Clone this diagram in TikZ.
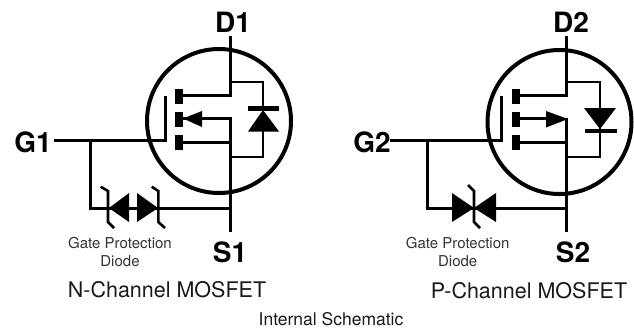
\documentclass[tikz,border=0pt]{standalone}
\usepackage{fontspec}
\setmainfont{TeX Gyre Heros}
\tikzset{
  wire/.style={line width=3pt},
  thinwire/.style={line width=2.6pt},
  ring/.style={line width=4pt},
  pad/.style={fill=black,draw=none,minimum width=8pt,minimum height=15pt,inner sep=0pt},
  tip/.style={fill=black,draw=none},
  pin/.style={font=\fontsize{28}{28}\selectfont\bfseries,inner sep=0pt},
  note/.style={font=\fontsize{15}{18}\selectfont,align=center,inner sep=0pt,text=black!80},
  caption/.style={font=\fontsize{21.5}{24}\selectfont,inner sep=0pt,text=black!90},
  bottomline/.style={font=\fontsize{17.5}{20}\selectfont,inner sep=0pt,text=black!90}
}
\begin{document}
\begin{tikzpicture}[x=1pt,y=-1pt]
\useasboundingbox (0,0) rectangle (634,330);

% left part:
\draw[ring] (219,121) circle (72);
\node[pin] (D1) at (233,22) {D1};
\node[pin] (S1) at (230,252) {S1};
\node[pin] (G1) at (33,142) {G1};
\coordinate (D1top) at (230,37);
\coordinate (D1bot) at (230,232);
\coordinate (G1w) at (54,140.5);
\node[pad] (P1a) at (179,96.5) {};
\node[pad] (P1b) at (179,119.5) {};
\node[pad] (P1c) at (179,142.5) {};
\draw[wire,line cap=rect] (D1top) -- (230,95) -- (P1a.east |- 0,95);
\draw[wire] (P1b.east |- 0,118.5) -- (230,118.5) -- (D1bot);
\draw[wire] (P1c.east |- 0,142) -- (230,142);
\draw[wire] (G1w) -- (165,140.5) -- (165,96);
\draw[thinwire] (230,82) -| (263,157) -- (230,157);
\fill[tip] (183,118.5) -- (202,111) -- (202,127) -- cycle;
\fill[tip] (263,110) -- (279,131.5) -- (248,131.5) -- cycle;
\draw[line width=4.5pt] (248,108.5) -- (279,108.5);

% gate clamp left:
\draw[wire] (90,140.5) |- (230,208.5);
\fill[tip] (109,208) -- (129,193) -- (129,222) -- cycle;
\fill[tip] (158,208) -- (137,193) -- (137,222) -- cycle;
\draw[thinwire] (100.7,186.7) -- (108,191) -- (108,222) -- (114,228);
\draw[thinwire] (151.7,186.7) -- (158.3,191) -- (158.3,222) -- (165,228);
\node[note] (N1) at (120,252) {Gate Protection\\Diode};
\node[caption] (C1) at (167,290) {N-Channel MOSFET};

% right part:
\draw[ring] (559.5,122) circle (72);
\node[pin] (D2) at (571,22) {D2};
\node[pin] (S2) at (573,252) {S2};
\node[pin] (G2) at (372,142) {G2};
\coordinate (D2top) at (566.7,37);
\coordinate (D2bot) at (566.7,232);
\coordinate (G2w) at (390,140.5);
\node[pad] (P2a) at (516,96.5) {};
\node[pad] (P2b) at (516,119.5) {};
\node[pad] (P2c) at (516,142.5) {};
\draw[wire,line cap=rect] (D2top) -- (566.7,95) -- (P2a.east |- 0,95);
\draw[wire] (P2b.east |- 0,118.5) -- (550,118.5);
\draw[wire] (566.7,118) -- (D2bot);
\draw[wire] (P2c.east |- 0,142) -- (566.7,142);
\draw[wire] (G2w) -- (501.7,140.5) -- (501.7,96);
\draw[thinwire] (566.7,82) -| (600,157) -- (566.7,157);
\fill[tip] (568,119) -- (546,111) -- (546,127.5) -- cycle;
\fill[tip] (600,129) -- (584,108) -- (616,108) -- cycle;
\draw[line width=4.5pt] (585,131) -- (617,131);

% gate clamp right:
\draw[wire] (427,140.5) |- (566.7,208.5);
\fill[tip] (474,208) -- (452,193) -- (452,222) -- cycle;
\fill[tip] (474,208) -- (496,193) -- (496,222) -- cycle;
\draw[thinwire] (468,185) -- (474,191) -- (474,222) -- (480,228);
\node[note] (N2) at (457.7,252) {Gate Protection\\Diode};
\node[caption] (C2) at (529,291) {P-Channel MOSFET};

\node[bottomline] (T) at (331,319) {Internal Schematic};
\end{tikzpicture}
\end{document}
